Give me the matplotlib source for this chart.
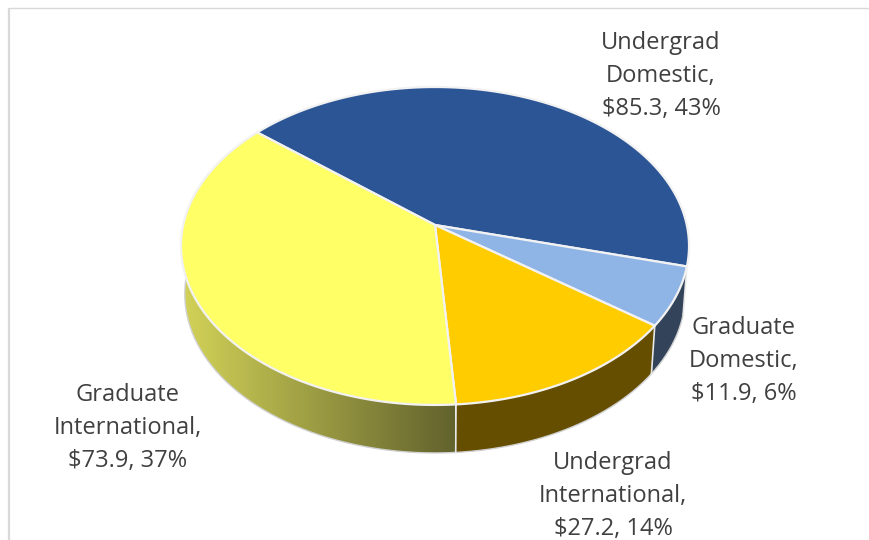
import numpy as np
import matplotlib
matplotlib.use("Agg")
import matplotlib.pyplot as plt
from matplotlib.colors import LinearSegmentedColormap
from matplotlib.patches import PathPatch, Polygon
from matplotlib.path import Path

categories = ["Undergrad\nDomestic", "Graduate\nDomestic", "Undergrad\nInternational", "Graduate\nInternational"]
values = [85.3, 11.9, 27.2, 73.9]
percents = [43, 6, 14, 37]
top_colors = ["#2C5596", "#8FB4E6", "#FFCC00", "#FFFF66"]
side_colors = [None, "#33445A", "#664E00", None]
label_pos = [(661, 76), (744, 361), (613, 496), (128, 428)]

plt.rcParams['font.family'] = ['Open Sans', 'DejaVu Sans']

# tilted disc: perspective projection of the unit circle, pixel coordinates
cx, cy = 435, 225
A, B, k = 251.8, 156.2, 0.132
depth = 48
start = 140.0


def top_xy(t):
    t = np.radians(t)
    d = 1 + k * np.sin(t)
    return cx + A * np.cos(t) / d, cy - B * np.sin(t) / d


def bottom_xy(t):
    x, y = top_xy(t)
    return cx + (x - cx) * 0.985, y + depth


fig = plt.figure(figsize=(8.7, 5.4), dpi=100)
ax = fig.add_axes([0, 0, 1, 1])
ax.axis("off")

# chart frame, only the top and left edges show
ax.plot([9, 9], [540, 7.5], color="#D9D9D9", lw=1.6, solid_capstyle="butt")
ax.plot([9, 870], [7.5, 7.5], color="#D9D9D9", lw=1.0, solid_capstyle="butt")

fractions = np.array(values) / sum(values)
edges = start - np.concatenate([[0], np.cumsum(fractions)]) * 360

yellow_side = LinearSegmentedColormap.from_list("side", ["#D2D258", "#62622D"])

# side walls first, the top faces cover whatever sticks out
for i in [1, 2, 3]:
    t = np.linspace(edges[i], edges[i + 1], 200)
    t = t[t > -195]
    xt, yt = top_xy(t)
    xb, yb = bottom_xy(t)
    pts = np.column_stack([np.concatenate([xt, xb[::-1]]), np.concatenate([yt, yb[::-1]])])
    if side_colors[i] is None:
        poly = Polygon(pts, closed=True, facecolor="none", edgecolor="none", zorder=2)
        ax.add_patch(poly)
        grad = np.linspace(0, 1, 256).reshape(1, -1)
        im = ax.imshow(grad, cmap=yellow_side, extent=[183, 455, 460, 270], aspect="auto", zorder=2)
        im.set_clip_path(poly)
    else:
        ax.add_patch(Polygon(pts, closed=True, facecolor=side_colors[i], edgecolor="none", zorder=2))
    # outer rim and wall seam
    ax.plot(xb, yb, color="#D0D0D0", lw=1.0, zorder=3)
    ax.plot([xt[0], xb[0]], [yt[0], yb[0]], color="#E8E8E8", lw=1.2, zorder=3)

# top faces
for i in range(4):
    t = np.linspace(edges[i], edges[i + 1], 200)
    x, y = top_xy(t)
    verts = [(cx, cy)] + list(zip(x, y)) + [(cx, cy)]
    codes = [Path.MOVETO] + [Path.LINETO] * (len(verts) - 2) + [Path.CLOSEPOLY]
    ax.add_patch(PathPatch(Path(verts, codes), facecolor=top_colors[i], edgecolor="#F2F2F2",
                           lw=1.6, joinstyle="round", zorder=4))

# data labels
for name, v, p, pos in zip(categories, values, percents, label_pos):
    ax.text(pos[0], pos[1], f"{name},\n${v}, {p}%", ha="center", va="center", fontsize=17,
            color="#404040", linespacing=1.5, zorder=5)

ax.set_xlim(0, 870)
ax.set_ylim(540, 0)

fig.savefig("out.png", dpi=100)
